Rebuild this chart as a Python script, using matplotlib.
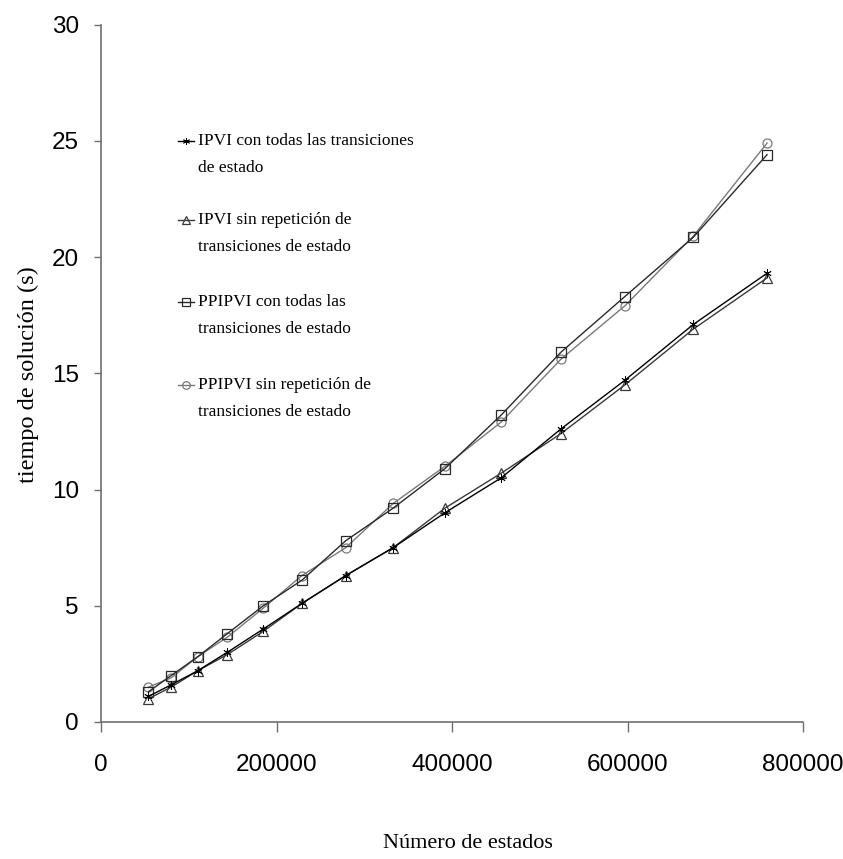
import matplotlib
matplotlib.use("Agg")
import matplotlib.pyplot as plt
from matplotlib.lines import Line2D

# número de estados del problema
num_estados = [54000, 80000, 110000, 144000, 185000, 229000, 279000,
               333000, 392000, 456000, 524000, 597000, 675000, 759000]

# tiempos de solución (s)
ipvi_todas = [1.1, 1.6, 2.2, 3.0, 4.0, 5.1, 6.3, 7.5, 9.0, 10.5, 12.6, 14.7, 17.1, 19.3]
ipvi_sin = [1.0, 1.5, 2.2, 2.9, 3.9, 5.1, 6.3, 7.5, 9.2, 10.7, 12.4, 14.5, 16.9, 19.1]
ppipvi_todas = [1.3, 2.0, 2.8, 3.8, 5.0, 6.1, 7.8, 9.2, 10.9, 13.2, 15.9, 18.3, 20.85, 24.4]
ppipvi_sin = [1.5, 1.9, 2.8, 3.65, 4.9, 6.3, 7.5, 9.4, 11.0, 12.9, 15.6, 17.9, 20.9, 24.9]

etiquetas = ["IPVI con todas las transiciones\nde estado",
             "IPVI sin repetición de\ntransiciones de estado",
             "PPIPVI con todas las\ntransiciones de estado",
             "PPIPVI sin repetición de\ntransiciones de estado"]

x_ticks = [0, 200000, 400000, 600000, 800000]
y_ticks = [0, 5, 10, 15, 20, 25, 30]

series = [ipvi_todas, ipvi_sin, ppipvi_todas, ppipvi_sin]
colores = ["#000000", "#3a3a3a", "#2a2a2a", "#7a7a7a"]
marcadores = [(6, 2, 0), "^", "s", "o"]
tam_marc = [6, 6.5, 7, 6.5]
grosor_marc = [0.6, 0.9, 0.9, 0.9]

W, H = 843, 859
fig = plt.figure(figsize=(W / 100, H / 100), dpi=100)
ax_l, ax_r, ax_t, ax_b = 101, 803, 24.5, 722
ax = fig.add_axes([ax_l / W, 1 - ax_b / H, (ax_r - ax_l) / W, (ax_b - ax_t) / H])

# orden de dibujo: las líneas grises primero
for i in [3, 2, 1, 0]:
    ax.plot(num_estados, series[i], color=colores[i], lw=1.0,
            marker=marcadores[i], markersize=tam_marc[i],
            markerfacecolor="none", markeredgecolor=colores[i],
            markeredgewidth=grosor_marc[i])

ax.set_xlim(0, 800000)
ax.set_ylim(0, 30)
ax.set_xticks(x_ticks)
ax.set_yticks(y_ticks)
ax.set_xticklabels([str(v) for v in x_ticks])
ax.set_yticklabels([str(v) for v in y_ticks])

for s in ["top", "right"]:
    ax.spines[s].set_visible(False)
for s in ["left", "bottom"]:
    ax.spines[s].set_color("#707070")
    ax.spines[s].set_linewidth(1.2)

ax.tick_params(axis="x", direction="out", length=7, width=1, color="#707070",
               pad=16, labelsize=17.5)
ax.tick_params(axis="y", direction="out", length=5, width=1, color="#707070",
               pad=11, labelsize=17.5)
for lab in ax.get_xticklabels() + ax.get_yticklabels():
    lab.set_fontfamily("Liberation Sans")

ax.set_xlabel("Número de estados", fontfamily="Liberation Serif", fontsize=16, va="center")
ax.xaxis.set_label_coords((468 - ax_l) / (ax_r - ax_l), -(843 - ax_b) / (ax_b - ax_t))
ax.set_ylabel("tiempo de solución (s)", fontfamily="Liberation Serif", fontsize=17.5, va="center")
ax.yaxis.set_label_coords((28 - ax_l) / (ax_r - ax_l), (ax_b - 375) / (ax_b - ax_t))

# leyenda manual: símbolo junto a la primera línea del texto
fila_y = [141, 220, 302, 385]
salto = 27
for i, etq in enumerate(etiquetas):
    yy = fila_y[i]
    fig.add_artist(Line2D([178 / W, 194 / W], [1 - yy / H, 1 - yy / H],
                          color=colores[i], lw=1.0))
    fig.add_artist(Line2D([186 / W], [1 - yy / H], color=colores[i],
                          marker=marcadores[i], markersize=tam_marc[i] - 1,
                          markerfacecolor="none", markeredgecolor=colores[i],
                          markeredgewidth=grosor_marc[i]))
    for k, linea in enumerate(etq.split("\n")):
        fig.text(198 / W, 1 - (yy + k * salto) / H, linea, fontfamily="Liberation Serif",
                 fontsize=12.5, va="center", ha="left")

fig.savefig("out.png", dpi=100)
